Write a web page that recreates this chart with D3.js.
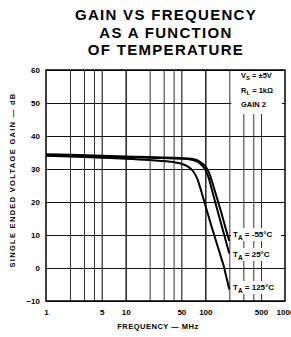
<!DOCTYPE html>
<html>
<head>
<meta charset="utf-8">
<script src="https://cdn.jsdelivr.net/npm/d3@7/dist/d3.min.js"></script>
<style>
  body { margin: 0; background: #fff; }
  text { font-family: "Liberation Sans", Arial, sans-serif; font-weight: bold; fill: #000; }
</style>
</head>
<body>
<div id="viz"></div>
<script>
// frequency points (MHz) shared by the three curves
var freq = [1, 2, 5, 10, 20, 30, 40, 50, 60, 70, 80, 90, 100, 110, 120, 130, 140, 150, 160, 170, 180, 190, 200];
var gainM55 = [34.5, 34.3, 34.0, 33.8, 33.6, 33.5, 33.4, 33.3, 33.2, 33.0, 32.6, 31.8, 30.8, 29.2, 26.6, 23.8, 21.2, 18.8, 16.5, 14.2, 12.0, 10.0, 8.2];
var gain25 = [34.2, 34.0, 33.8, 33.6, 33.4, 33.3, 33.2, 33.1, 33.0, 32.7, 32.2, 31.2, 29.8, 27.4, 24.0, 20.8, 18.0, 15.4, 12.9, 10.6, 8.4, 6.3, 4.4];
var gain125 = [34.0, 33.8, 33.4, 33.1, 32.7, 32.4, 32.1, 31.6, 30.8, 29.4, 26.8, 22.8, 19.0, 15.6, 12.5, 9.8, 7.2, 4.9, 2.7, 0.7, -1.9, -4.2, -6.5];
var seriesNames = ["-55°C", "25°C", "125°C"];

var yTicks = [-10, 0, 10, 20, 30, 40, 50, 60];
var xGrid = [2, 3, 4, 5, 10, 20, 30, 40, 50, 100, 200, 300, 400, 500];
var xTicks = [1, 5, 10, 50, 100, 500, 1000];

var W = 291, H = 337;
var pL = 46, pR = 285, pT = 70, pB = 301;

var svg = d3.select("#viz").append("svg")
    .attr("width", W)
    .attr("height", H);

var x = d3.scaleLog().domain([1, 1000]).range([pL, pR]);
var y = d3.scaleLinear().domain([-10, 60]).range([pB, pT]);

// title
var title = ["GAIN VS FREQUENCY", "AS A FUNCTION", "OF TEMPERATURE"];
svg.selectAll(".title").data(title).enter().append("text")
    .attr("class", "title")
    .attr("x", 166)
    .attr("y", function(d, i) { return 20 + i * 17.5; })
    .attr("text-anchor", "middle")
    .attr("font-size", "15px")
    .attr("letter-spacing", "1.3px")
    .text(function(d) { return d; });

// grid
var grid = svg.append("g");
grid.append("g")
    .attr("transform", "translate(0," + pB + ")")
    .call(d3.axisBottom(x).tickValues(xGrid).tickSize(-(pB - pT)).tickFormat(""))
    .call(function(g) {
      g.select(".domain").remove();
      g.selectAll("line")
        .attr("stroke", function(d) { return (d == 10 || d == 100 || d == 5 || d == 50) ? "#000" : "#333"; })
        .attr("stroke-width", function(d) { return (d == 10 || d == 100) ? 1.3 : 1; });
    });
grid.append("g")
    .attr("transform", "translate(" + pL + ",0)")
    .call(d3.axisLeft(y).tickValues(yTicks).tickSize(-(pR - pL)).tickFormat(""))
    .call(function(g) {
      g.select(".domain").remove();
      g.selectAll("line").attr("stroke", "#111").attr("stroke-width", 1);
    });

// white box behind the conditions note
svg.append("rect")
    .attr("x", x(200) + 2).attr("y", pT + 1)
    .attr("width", pR - x(200) - 5).attr("height", 43)
    .attr("fill", "#fff");

// curves
var line = d3.line()
    .x(function(d) { return x(d[0]); })
    .y(function(d) { return y(d[1]); })
    .curve(d3.curveMonotoneX);

var series = [gainM55, gain25, gain125];
svg.append("g").selectAll("path").data(series).enter().append("path")
    .attr("d", function(s) { return line(freq.map(function(f, i) { return [f, s[i]]; })); })
    .attr("fill", "none")
    .attr("stroke", "#000")
    .attr("stroke-width", 2);

// frame
svg.append("rect")
    .attr("x", pL).attr("y", pT)
    .attr("width", pR - pL).attr("height", pB - pT)
    .attr("fill", "none")
    .attr("stroke", "#000")
    .attr("stroke-width", 1.5);

// axes labels
svg.append("g")
    .attr("transform", "translate(" + pL + ",0)")
    .call(d3.axisLeft(y).tickValues(yTicks).tickSize(0).tickPadding(6))
    .call(function(g) {
      g.select(".domain").remove();
      g.selectAll("text").attr("font-size", "8px").attr("font-family", null);
    });
svg.append("g")
    .attr("transform", "translate(0," + pB + ")")
    .call(d3.axisBottom(x).tickValues(xTicks).tickSize(0).tickPadding(8).tickFormat(d3.format("d")))
    .call(function(g) {
      g.select(".domain").remove();
      g.selectAll("text").attr("font-size", "8px").attr("font-family", null);
    });

svg.append("text")
    .attr("x", 158).attr("y", 329)
    .attr("text-anchor", "middle")
    .attr("font-size", "7.5px")
    .attr("letter-spacing", "0.5px")
    .text("FREQUENCY — MHz");

svg.append("text")
    .attr("transform", "translate(15,180) rotate(-90)")
    .attr("text-anchor", "middle")
    .attr("font-size", "7.5px")
    .attr("letter-spacing", "1.3px")
    .text("SINGLE ENDED VOLTAGE GAIN — dB");

// conditions note
var note = svg.append("g").attr("font-size", "7.5px");
var n1 = note.append("text").attr("x", 241).attr("y", 78);
n1.append("tspan").text("V");
n1.append("tspan").attr("dy", 2).attr("font-size", "6px").text("S");
n1.append("tspan").attr("dy", -2).text(" = ±5V");
var n2 = note.append("text").attr("x", 241).attr("y", 93);
n2.append("tspan").text("R");
n2.append("tspan").attr("dy", 2).attr("font-size", "6px").text("L");
n2.append("tspan").attr("dy", -2).text(" = 1kΩ");
note.append("text").attr("x", 241).attr("y", 107).text("GAIN 2");

// temperature labels
var labelY = [237, 257, 290];
var labels = svg.append("g").attr("font-size", "8px");
seriesNames.forEach(function(name, i) {
  labels.append("rect")
    .attr("x", 231).attr("y", labelY[i] - 9)
    .attr("width", 50).attr("height", 13)
    .attr("fill", "#fff");
  var t = labels.append("text").attr("x", 233).attr("y", labelY[i]);
  t.append("tspan").text("T");
  t.append("tspan").attr("dy", 2.5).attr("font-size", "6.5px").text("A");
  t.append("tspan").attr("dy", -2.5).text(" = " + name);
});
</script>
</body>
</html>
